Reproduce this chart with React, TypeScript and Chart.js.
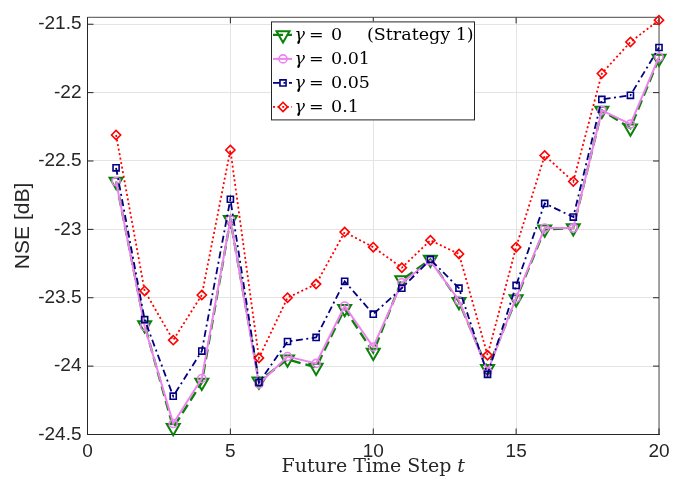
import React, { useEffect, useRef } from "react";
import { Chart, registerables } from "chart.js";

Chart.register(...registerables);

// ---- data ----
const steps = [1, 2, 3, 4, 5, 6, 7, 8, 9, 10, 11, 12, 13, 14, 15, 16, 17, 18, 19, 20];
const gamma0 = [-22.65, -23.70, -24.45, -24.12, -22.93, -24.11, -23.95, -24.01, -23.58, -23.90, -23.37, -23.22, -23.53, -24.02, -23.51, -23.00, -22.99, -22.13, -22.26, -21.75];
const gamma001 = [-22.65, -23.71, -24.42, -24.09, -22.93, -24.13, -23.93, -23.98, -23.56, -23.86, -23.39, -23.23, -23.52, -24.04, -23.50, -22.99, -22.99, -22.13, -22.23, -21.74];
const gamma005 = [-22.55, -23.66, -24.22, -23.89, -22.78, -24.12, -23.82, -23.79, -23.38, -23.62, -23.43, -23.22, -23.43, -24.06, -23.41, -22.81, -22.91, -22.05, -22.02, -21.67];
const gamma01 = [-22.31, -23.45, -23.81, -23.48, -22.42, -23.94, -23.50, -23.40, -23.02, -23.13, -23.28, -23.08, -23.18, -23.92, -23.13, -22.46, -22.65, -21.86, -21.63, -21.47];
const gammaLabels = ["0", "0.01", "0.05", "0.1"];
const strategyNote = "(Strategy 1)";
const xTicks = [0, 5, 10, 15, 20];
const yTicks = [-24.5, -24, -23.5, -23, -22.5, -22, -21.5];
const xTitle = "Future Time Step ";
const xTitleVar = "t";
const yTitle = "NSE [dB]";

const seriesValues = [gamma0, gamma001, gamma005, gamma01];
const seriesStyles = [
  { color: "#0a820a", width: 2.4, dash: [10, 5], point: "triangle", rot: 180, r: 7.5, pw: 2 },
  { color: "#ee82ee", width: 2, dash: [], point: "circle", rot: 0, r: 4, pw: 1.6 },
  { color: "#000080", width: 1.8, dash: [7, 3.5, 2, 3.5], point: "rect", rot: 0, r: 4.3, pw: 1.6 },
  { color: "#ff0000", width: 1.8, dash: [2, 2.6], point: "rectRot", rot: 0, r: 4.6, pw: 1.6 },
];

const AX = "#262626";
const SANS = "'Liberation Sans', Arial, Helvetica, sans-serif";
const SERIF = "'DejaVu Serif', serif";

function drawMarker(ctx: CanvasRenderingContext2D, style: string, r: number, rot: number, x: number, y: number) {
  const rad = (rot * Math.PI) / 180;
  ctx.beginPath();
  if (style === "circle") {
    ctx.arc(x, y, r, 0, Math.PI * 2);
  } else if (style === "triangle") {
    let a = rad;
    ctx.moveTo(x + Math.sin(a) * r, y - Math.cos(a) * r);
    a += (2 * Math.PI) / 3;
    ctx.lineTo(x + Math.sin(a) * r, y - Math.cos(a) * r);
    a += (2 * Math.PI) / 3;
    ctx.lineTo(x + Math.sin(a) * r, y - Math.cos(a) * r);
    ctx.closePath();
  } else if (style === "rect") {
    const s = r * Math.SQRT1_2;
    ctx.rect(x - s, y - s, 2 * s, 2 * s);
  } else if (style === "rectRot") {
    ctx.moveTo(x, y - r);
    ctx.lineTo(x + r, y);
    ctx.lineTo(x, y + r);
    ctx.lineTo(x - r, y);
    ctx.closePath();
  }
  ctx.stroke();
}

const decorPlugin = {
  id: "decor",
  beforeDatasetsDraw(chart: any) {
    const { ctx, chartArea: ca, scales } = chart;
    ctx.save();
    ctx.strokeStyle = "#6e6e6e";
    ctx.lineWidth = 1.2;
    ctx.beginPath();
    ctx.moveTo(ca.left, ca.top);
    ctx.lineTo(ca.right, ca.top);
    ctx.lineTo(ca.right, ca.bottom);
    ctx.stroke();
    ctx.strokeStyle = AX;
    ctx.lineWidth = 1;
    const tl = 6;
    ctx.beginPath();
    yTicks.forEach((v) => {
      const y = scales.y.getPixelForValue(v);
      ctx.moveTo(ca.left, y);
      ctx.lineTo(ca.left + tl, y);
      ctx.moveTo(ca.right, y);
      ctx.lineTo(ca.right - tl, y);
    });
    xTicks.forEach((v) => {
      const x = scales.x.getPixelForValue(v);
      ctx.moveTo(x, ca.bottom);
      ctx.lineTo(x, ca.bottom - tl);
      ctx.moveTo(x, ca.top);
      ctx.lineTo(x, ca.top + tl);
    });
    ctx.stroke();
    ctx.restore();
  },
  afterDraw(chart: any) {
    const { ctx, chartArea: ca } = chart;
    ctx.save();
    // x title with italic variable
    const fs = 19;
    ctx.fillStyle = AX;
    ctx.textBaseline = "middle";
    ctx.font = `${fs}px ${SERIF}`;
    const w1 = ctx.measureText(xTitle).width;
    ctx.font = `italic ${fs}px ${SERIF}`;
    const w2 = ctx.measureText(xTitleVar).width;
    const cx = (ca.left + ca.right) / 2;
    const ty = ca.bottom + 33;
    const sx = cx - (w1 + w2) / 2;
    ctx.textAlign = "left";
    ctx.font = `${fs}px ${SERIF}`;
    ctx.fillText(xTitle, sx, ty);
    ctx.font = `italic ${fs}px ${SERIF}`;
    ctx.fillText(xTitleVar, sx + w1, ty);

    // legend
    const bx = ca.left + 183.5;
    const by = ca.top + 4;
    const bw = 204;
    const bh = 99;
    ctx.fillStyle = "#ffffff";
    ctx.fillRect(bx, by, bw, bh);
    ctx.strokeStyle = AX;
    ctx.lineWidth = 1;
    ctx.strokeRect(bx + 0.5, by + 0.5, bw - 1, bh - 1);
    seriesStyles.forEach((s, i) => {
      const ry = by + 13.5 + i * 24;
      ctx.save();
      ctx.strokeStyle = s.color;
      ctx.lineWidth = s.width;
      ctx.setLineDash(s.dash);
      ctx.beginPath();
      ctx.moveTo(bx + 2, ry);
      ctx.lineTo(bx + 21, ry);
      ctx.stroke();
      ctx.setLineDash([]);
      ctx.lineWidth = s.pw;
      drawMarker(ctx, s.point, s.r, s.rot, bx + 12, ry);
      ctx.restore();
      ctx.fillStyle = "#000";
      ctx.textBaseline = "middle";
      ctx.textAlign = "left";
      ctx.font = `italic 17.5px ${SERIF}`;
      ctx.fillText("\u03b3", bx + 23.5, ry + 1);
      ctx.font = `17.5px ${SERIF}`;
      ctx.fillText("=", bx + 38, ry + 1);
      ctx.fillText(gammaLabels[i], bx + 60, ry + 1);
      if (i === 0) ctx.fillText(strategyNote, bx + 96, ry + 1);
    });
    ctx.restore();
  },
};

export default function App() {
  const canvasRef = useRef<HTMLCanvasElement | null>(null);

  useEffect(() => {
    const canvas = canvasRef.current;
    if (!canvas) return;
    const datasets = seriesValues.map((vals, i) => {
      const s = seriesStyles[i];
      return {
        label: "γ = " + gammaLabels[i],
        data: steps.map((t, k) => ({ x: t, y: vals[k] })),
        borderColor: s.color,
        borderWidth: s.width,
        borderDash: s.dash,
        backgroundColor: "rgba(0,0,0,0)",
        pointStyle: s.point,
        pointRotation: s.rot,
        pointRadius: s.r,
        pointBorderWidth: s.pw,
        pointBorderColor: s.color,
        pointBackgroundColor: "rgba(0,0,0,0)",
        tension: 0,
        fill: false,
        clip: false,
        order: 4 - i,
      };
    });

    const chart = new Chart(canvas, {
      type: "line",
      data: { datasets },
      options: {
        animation: false,
        responsive: false,
        maintainAspectRatio: false,
        layout: { padding: { left: 0, right: 33, top: 11, bottom: 0 } },
        plugins: {
          legend: { display: false },
          tooltip: { enabled: false },
          title: { display: false },
        },
        scales: {
          x: {
            type: "linear",
            min: 0,
            max: 20,
            afterBuildTicks: (s: any) => {
              s.ticks = xTicks.map((v) => ({ value: v }));
            },
            afterFit: (s: any) => {
              s.height = 50.5;
            },
            grid: { color: "#e4e4e4", drawTicks: false, lineWidth: 1 },
            border: { color: AX, width: 1 },
            ticks: {
              color: AX,
              font: { family: SANS, size: 19 },
              padding: 6,
              maxRotation: 0,
              callback: (v: any) => String(Number(v)),
            },
          },
          y: {
            type: "linear",
            min: -24.5,
            max: -21.45,
            afterBuildTicks: (s: any) => {
              s.ticks = yTicks.map((v) => ({ value: v }));
            },
            afterFit: (s: any) => {
              s.width = 87.5;
            },
            grid: { color: "#e4e4e4", drawTicks: false, lineWidth: 1 },
            border: { color: AX, width: 1 },
            ticks: {
              color: AX,
              font: { family: SANS, size: 19 },
              padding: 6,
              callback: (v: any) => String(Number(v)),
            },
            title: {
              display: true,
              text: yTitle,
              color: AX,
              font: { family: SANS, size: 21 },
              padding: { top: 11, bottom: 0 },
            },
          },
        },
      } as any,
      plugins: [decorPlugin],
    });
    return () => chart.destroy();
  }, []);

  return (
    <div style={{ position: "fixed", left: 0, top: 0, width: 692, height: 485, background: "#fff" }}>
      <canvas ref={canvasRef} width={692} height={485} style={{ width: 692, height: 485 }} />
    </div>
  );
}
